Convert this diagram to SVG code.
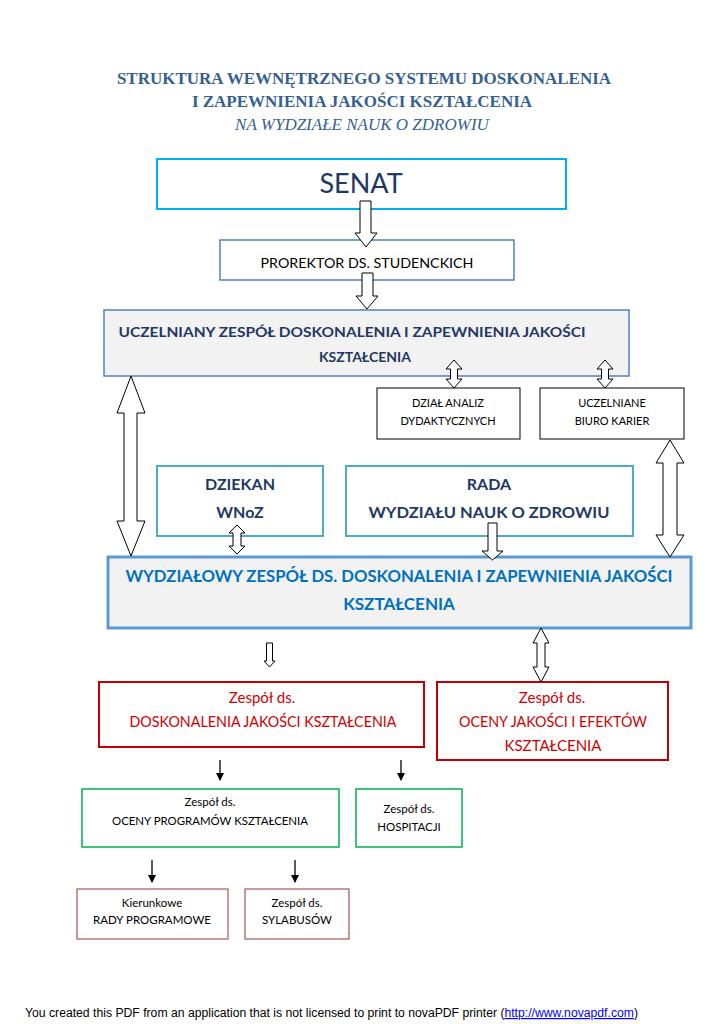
<svg xmlns="http://www.w3.org/2000/svg" width="724" height="1024" viewBox="0 0 724 1024">
<style>
.title{font-family:"Liberation Serif",serif;font-size:17px;fill:#365f91;text-anchor:middle}
.t{font-family:Lato,"Liberation Sans",sans-serif;text-anchor:middle}
.navy{fill:#1f3864;font-weight:bold}
.blk{fill:#000}
.red{fill:#d00000}
.arr{fill:#fff;stroke:#000;stroke-width:1}
.ln{stroke:#000;stroke-width:1.3;fill:none}
</style>
<defs>
<marker id="ah" markerWidth="8" markerHeight="8" refX="7" refY="4" orient="auto" markerUnits="userSpaceOnUse" viewBox="0 0 8 8">
<path d="M0,0 L8,4 L0,8 Z" fill="#000"/>
</marker>
</defs>
<rect width="724" height="1024" fill="#fff"/>

<g id="title">
<text class="title" x="364" y="84" font-weight="bold">STRUKTURA WEWNĘTRZNEGO SYSTEMU DOSKONALENIA</text>
<text class="title" x="362" y="107" font-weight="bold">I ZAPEWNIENIA JAKOŚCI KSZTAŁCENIA</text>
<text class="title" x="362" y="130" font-style="italic">NA WYDZIAŁE NAUK O ZDROWIU</text>
</g>

<g id="senat">
<rect x="157" y="159" width="409" height="50" fill="#fff" stroke="#00b0f0" stroke-width="2"/>
<text class="t" x="361" y="193" font-size="27" fill="#1f3864">SENAT</text>
</g>

<g id="prorektor">
<rect x="220" y="240" width="294" height="40" fill="#fff" stroke="#4f81bd" stroke-width="1.5"/>
<text class="t blk" x="367" y="268" font-size="14" textLength="213" lengthAdjust="spacingAndGlyphs">PROREKTOR DS. STUDENCKICH</text>
</g>

<g id="uczelniany">
<rect x="104" y="310" width="525" height="66" fill="#f2f2f2" stroke="#4f81bd" stroke-width="1.5"/>
<text class="t navy" x="352" y="337" font-size="14" textLength="467" lengthAdjust="spacingAndGlyphs">UCZELNIANY ZESPÓŁ DOSKONALENIA I ZAPEWNIENIA JAKOŚCI</text>
<text class="t navy" x="365" y="362" font-size="14">KSZTAŁCENIA</text>
</g>

<g id="dzial">
<rect x="377" y="388" width="143" height="51" fill="#fff" stroke="#000" stroke-width="1"/>
<text class="t blk" x="448" y="407" font-size="11">DZIAŁ ANALIZ</text>
<text class="t blk" x="448" y="425" font-size="11">DYDAKTYCZNYCH</text>
</g>

<g id="biuro">
<rect x="540" y="388" width="144" height="51" fill="#fff" stroke="#000" stroke-width="1"/>
<text class="t blk" x="612" y="407" font-size="11">UCZELNIANE</text>
<text class="t blk" x="612" y="425" font-size="11">BIURO KARIER</text>
</g>

<g id="dziekan">
<rect x="157" y="466" width="166" height="70" fill="#fff" stroke="#4bacc6" stroke-width="2"/>
<text class="t navy" x="240" y="490" font-size="16">DZIEKAN</text>
<text class="t navy" x="240" y="518" font-size="16">WNoZ</text>
</g>

<g id="rada">
<rect x="346" y="466" width="287" height="70" fill="#fff" stroke="#4bacc6" stroke-width="2"/>
<text class="t navy" x="489" y="490" font-size="16">RADA</text>
<text class="t navy" x="489" y="518" font-size="16" textLength="241" lengthAdjust="spacingAndGlyphs">WYDZIAŁU NAUK O ZDROWIU</text>
</g>

<g id="wydzialowy">
<rect x="108" y="557" width="583" height="71" fill="#f2f2f2" stroke="#5b9bd5" stroke-width="3"/>
<text class="t" x="399" y="582" font-size="17" font-weight="bold" fill="#0070c0" textLength="547" lengthAdjust="spacingAndGlyphs">WYDZIAŁOWY ZESPÓŁ DS. DOSKONALENIA I ZAPEWNIENIA JAKOŚCI</text>
<text class="t" x="399" y="610" font-size="17" font-weight="bold" fill="#0070c0">KSZTAŁCENIA</text>
</g>

<g id="doskonalenia">
<rect x="99" y="682" width="325" height="65" fill="#fff" stroke="#c00000" stroke-width="2"/>
<text class="t red" x="262" y="703" font-size="15">Zespół ds.</text>
<text class="t red" x="263" y="727" font-size="15" textLength="267" lengthAdjust="spacingAndGlyphs">DOSKONALENIA JAKOŚCI KSZTAŁCENIA</text>
</g>

<g id="oceny-jakosci">
<rect x="437" y="682" width="231" height="78" fill="#fff" stroke="#c00000" stroke-width="2"/>
<text class="t red" x="552" y="703" font-size="15">Zespół ds.</text>
<text class="t red" x="553" y="727" font-size="15" textLength="188" lengthAdjust="spacingAndGlyphs">OCENY JAKOŚCI I EFEKTÓW</text>
<text class="t red" x="553" y="751" font-size="15">KSZTAŁCENIA</text>
</g>

<g id="oceny-programow">
<rect x="82" y="789" width="257" height="58" fill="#fff" stroke="#00b050" stroke-width="1.5"/>
<text class="t blk" x="210" y="806" font-size="11.5">Zespół ds.</text>
<text class="t blk" x="210" y="825" font-size="11.5" textLength="196" lengthAdjust="spacingAndGlyphs">OCENY PROGRAMÓW KSZTAŁCENIA</text>
</g>

<g id="hospitacji">
<rect x="356" y="789" width="106" height="58" fill="#fff" stroke="#00b050" stroke-width="1.5"/>
<text class="t blk" x="409" y="813" font-size="11.5">Zespół ds.</text>
<text class="t blk" x="409" y="831" font-size="11.5">HOSPITACJI</text>
</g>

<g id="rady">
<rect x="77" y="889" width="151" height="50" fill="#fff" stroke="#953735" stroke-width="1"/>
<text class="t blk" x="152" y="907" font-size="11.5">Kierunkowe</text>
<text class="t blk" x="152" y="924" font-size="11.5">RADY PROGRAMOWE</text>
</g>

<g id="sylabusow">
<rect x="245" y="889" width="104" height="50" fill="#fff" stroke="#953735" stroke-width="1"/>
<text class="t blk" x="297" y="907" font-size="11.5">Zespół ds.</text>
<text class="t blk" x="297" y="924" font-size="11.5">SYLABUSÓW</text>
</g>

<g id="connectors">
<path class="arr" d="M360,201 H371 V233 H377 L366,247 L355,233 H360 Z"/>
<path class="arr" d="M362,273 H373 V296 H378 L367,309 L356,296 H362 Z"/>
<path class="arr" d="M454,360 L462,369 H457.5 V379 H462 L454,388 L446,379 H450.5 V369 H446 Z"/>
<path class="arr" d="M605,360 L613,369 H608.5 V379 H613 L605,388 L597,379 H601.5 V369 H597 Z"/>
<path class="arr" d="M131,376 L145,413 H137 V521 H145 L131,556 L117,521 H124 V413 H117 Z"/>
<path class="arr" d="M670,440 L684,463 H677 V535 H684 L670,557 L656,535 H663 V463 H656 Z"/>
<path class="arr" d="M237,525 L245,533 H241 V546 H245 L237,554 L229,546 H233 V533 H229 Z"/>
<path class="arr" d="M488,523 H497 V551 H503 L492.5,560 L482,551 H488 Z"/>
<path class="arr" d="M266.5,643 H272.5 V661 H275 L269.5,667 L264,661 H266.5 Z"/>
<path class="arr" d="M541,628 L549,643 H545 V667 H549 L541,682 L533,667 H537 V643 H533 Z"/>
<line class="ln" x1="220" y1="760" x2="220" y2="780" marker-end="url(#ah)"/>
<line class="ln" x1="401" y1="760" x2="401" y2="780" marker-end="url(#ah)"/>
<line class="ln" x1="152" y1="860" x2="152" y2="882" marker-end="url(#ah)"/>
<line class="ln" x1="295" y1="860" x2="295" y2="882" marker-end="url(#ah)"/>
</g>

<g id="footer">
<text x="25" y="1017" font-family="Liberation Sans,Arial,sans-serif" font-size="12" fill="#000" textLength="613" lengthAdjust="spacingAndGlyphs">You created this PDF from an application that is not licensed to print to novaPDF printer (<tspan fill="#0000ff" text-decoration="underline">http://www.novapdf.com</tspan>)</text>
</g>
</svg>
